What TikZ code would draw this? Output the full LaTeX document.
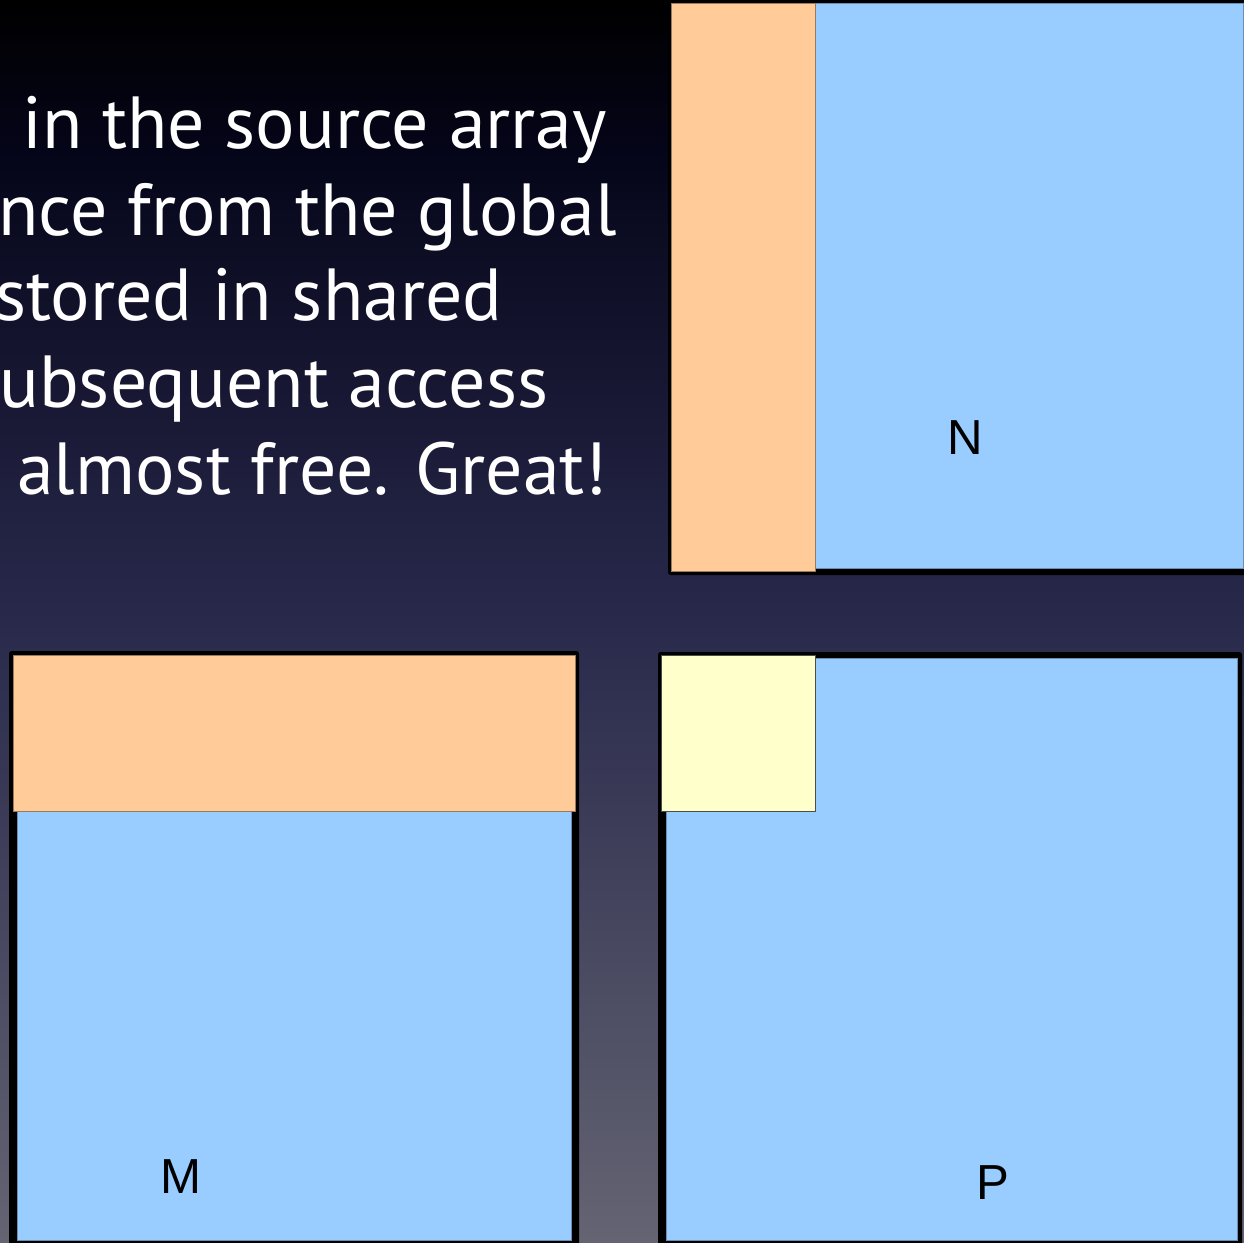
\documentclass[tikz,border=0pt]{standalone}
\usepackage{fontspec}
\newfontfamily\slidefont{PT Sans}
\newfontfamily\labelfont{Liberation Sans}
\usetikzlibrary{positioning}
\definecolor{tileorange}{RGB}{255,204,153}
\definecolor{tileblue}{RGB}{153,204,255}
\definecolor{tileyellow}{RGB}{255,255,204}
\definecolor{bgtop}{RGB}{5,5,25}
\definecolor{bgmid}{RGB}{40,40,75}
\definecolor{bgbottom}{RGB}{100,100,115}

\begin{document}
\begin{tikzpicture}[
    x=0.02cm,y=-0.02cm,
    frame/.style={fill=black,rounded corners=1.5pt},
    strip/.style={fill=tileorange,draw=tileorange!60!black,line width=0.3pt},
    block/.style={fill=tileyellow,draw=black!70,line width=0.3pt},
    body/.style={fill=tileblue,draw=tileblue!70!black,line width=0.3pt},
    slide/.style={anchor=base west,inner sep=0pt,text=white,font=\slidefont\fontsize{42}{50}\selectfont},
    tag/.style={inner sep=0pt,font=\labelfont\fontsize{28}{32}\selectfont}
]
\useasboundingbox (0,0) rectangle (1244,1242);
\clip (0,0) rectangle (1244,1242);
% background in three bands
\shade[top color=black,bottom color=bgtop] (0,0) rectangle (1244,151);
\shade[top color=bgtop,bottom color=bgmid] (0,150) rectangle (1244,611);
\shade[top color=bgmid,bottom color=bgbottom] (0,610) rectangle (1244,1242);

% text of the slide, cut at the left
\node[slide] (line1) at (22,148) {in the source array};
\node[slide] (line2) at (-2,235) {nce from the global};
\node[slide] (line3) at (-5,320) {stored in shared};
\node[slide] (line4) at (-1,407) {ubsequent access};
\node[slide] (line5) at (17,494) {almost free. Great!};

% matrix N
\fill[frame] (668,-3) rectangle (1247,575);
\filldraw[body] (815,3) rectangle (1243,568);
\filldraw[strip] (671,3) rectangle (815,571);
\node[tag] (labN) at (965,438) {N};

% matrix M
\fill[frame] (9,651) rectangle (579,1246);
\filldraw[body] (17,811) rectangle (571,1240);
\filldraw[strip] (13,655) rectangle (575,811);
\node[tag] (labM) at (181,1177) {M};

% matrix P
\fill[frame] (658,652) rectangle (1242,1246);
\filldraw[body] (666,658) rectangle (1237,1240);
\filldraw[block] (661,655) rectangle (815,811);
\node[tag] (labP) at (993,1183) {P};
\end{tikzpicture}
\end{document}
